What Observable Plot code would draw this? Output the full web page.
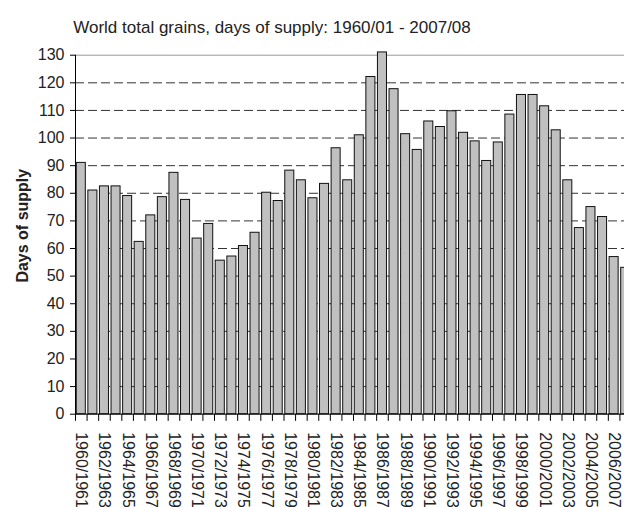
<!DOCTYPE html>
<html><head><meta charset="utf-8">
<script src="https://cdn.jsdelivr.net/npm/d3@7"></script>
<script src="https://cdn.jsdelivr.net/npm/@observablehq/plot@0.6"></script>
<style>
html,body{margin:0;padding:0;overflow:hidden;background:#fff;}
#wrap{position:relative;width:624px;height:507px;overflow:hidden;font-family:"Liberation Sans",Arial,sans-serif;}
#title{position:absolute;left:0;top:19px;width:544px;text-align:center;font-size:17px;line-height:17px;color:#222;z-index:2;}
#chart{position:absolute;left:0;top:0;}
#chart svg{max-width:none !important;}
</style></head><body>
<div id="wrap"><div id="title">World total grains, days of supply: 1960/01 - 2007/08</div><div id="chart"></div></div>
<script>
const seasons = ["1960/1961","1961/1962","1962/1963","1963/1964","1964/1965","1965/1966","1966/1967","1967/1968","1968/1969","1969/1970","1970/1971","1971/1972","1972/1973","1973/1974","1974/1975","1975/1976","1976/1977","1977/1978","1978/1979","1979/1980","1980/1981","1981/1982","1982/1983","1983/1984","1984/1985","1985/1986","1986/1987","1987/1988","1988/1989","1989/1990","1990/1991","1991/1992","1992/1993","1993/1994","1994/1995","1995/1996","1996/1997","1997/1998","1998/1999","1999/2000","2000/2001","2001/2002","2002/2003","2003/2004","2004/2005","2005/2006","2006/2007","2007/2008"];
const daysOfSupply = [91,81,82.5,82.5,79,62.4,72,78.6,87.4,77.6,63.6,68.9,55.6,57.1,60.9,65.7,80.2,77.2,88.2,84.7,78.2,83.4,96.3,84.7,101,122.1,131,117.7,101.4,95.7,106,104,109.7,101.9,98.8,91.7,98.4,108.5,115.6,115.6,111.5,102.8,84.7,67.4,75,71.4,56.9,53];
const xTickLabels = ["1960/1961","1962/1963","1964/1965","1966/1967","1968/1969","1970/1971","1972/1973","1974/1975","1976/1977","1978/1979","1980/1981","1982/1983","1984/1985","1986/1987","1988/1989","1990/1991","1992/1993","1994/1995","1996/1997","1998/1999","2000/2001","2002/2003","2004/2005","2006/2007"];
const yTicks = [0,10,20,30,40,50,60,70,80,90,100,110,120,130];
const dashedGrid = [10,20,30,40,50,60,70,80,90,100,110,120];
const topLine = [130];
const yLabel = "Days of supply";

const data = seasons.map((s,i)=>({season:s, days:daysOfSupply[i]}));

const W = 640, H = 520, mL = 75, mR = 9, mT = 54.7, mB = H - 413.7;
const step = (W - mL - mR) / seasons.length;

const chart = Plot.plot({
  width: W, height: H,
  marginLeft: mL, marginRight: mR, marginTop: mT, marginBottom: mB,
  style: {fontFamily: '"Liberation Sans", Arial, sans-serif', fontSize: "16px", color: "#222", background: "transparent", overflow: "visible", maxWidth: "none"},
  x: {type: "band", domain: seasons, paddingInner: 0.22, paddingOuter: 0.11, align: 0.5, round: false},
  y: {domain: [0,130]},
  marks: [
    Plot.ruleY(dashedGrid, {stroke: "#333", strokeWidth: 1, strokeDasharray: "9,4"}),
    Plot.ruleY(topLine, {stroke: "#999", strokeWidth: 1}),
    Plot.barY(data, {x: "season", y: "days", fill: "#c0c0c0", stroke: "#111", strokeWidth: 1}),
    Plot.ruleX(seasons, {x: d=>d, y1: 0, y2: -2.6, dx: -step/2, stroke: "#000"}),
    Plot.frame({anchor: "left", stroke: "#000"}),
    Plot.frame({anchor: "bottom", stroke: "#000"}),
    Plot.axisY({ticks: yTicks, tickSize: 5, tickPadding: 6, label: null, fontSize: 16, stroke: "#000"}),
    Plot.axisX({ticks: xTickLabels, tickSize: 0, tickPadding: 18, tickRotate: 90, label: null, fontSize: 16}),
    Plot.text([yLabel], {frameAnchor: "left", textAnchor: "middle", rotate: -90, dx: -53, dy: -9, fontWeight: "bold", fontSize: 16, fill: "#222"})
  ]
});
document.getElementById("chart").appendChild(chart);
</script>
</body></html>
